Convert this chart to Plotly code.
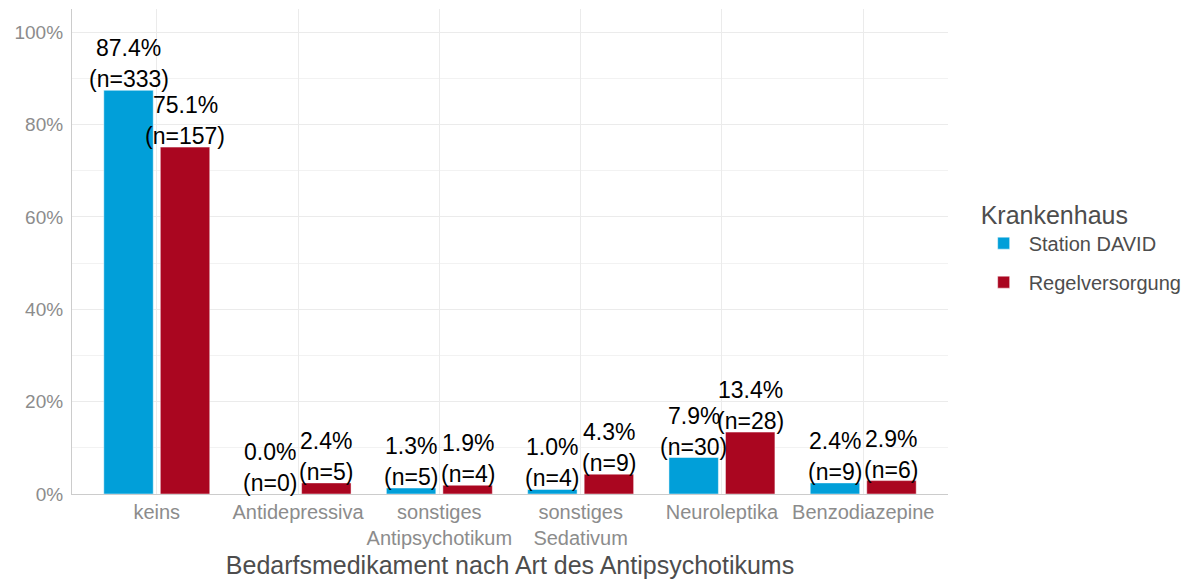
import plotly.graph_objects as go

categories = ["keins", "Antidepressiva", "sonstiges<br>Antipsychotikum",
              "sonstiges<br>Sedativum", "Neuroleptika", "Benzodiazepine"]
david_pct = [87.4, 0.0, 1.3, 1.0, 7.9, 2.4]
david_n = [333, 0, 5, 4, 30, 9]
regel_pct = [75.1, 2.4, 1.9, 4.3, 13.4, 2.9]
regel_n = [157, 5, 4, 9, 28, 6]
y_ticks = [0, 20, 40, 60, 80, 100]
y_ticklabels = ["0%", "20%", "40%", "60%", "80%", "100%"]

BLUE = "#019fd9"
RED = "#aa0620"
FONT = "Liberation Sans, Arial, sans-serif"

fig = go.Figure()
fig.add_trace(go.Bar(name="Station DAVID", x=categories, y=david_pct, legendgroup="a",
                     marker=dict(color=BLUE, line=dict(color="rgba(255,255,255,0.6)", width=0.8))))
fig.add_trace(go.Bar(name="Regelversorgung", x=categories, y=regel_pct, legendgroup="b",
                     marker=dict(color=RED, line=dict(color="rgba(255,255,255,0.6)", width=0.8))))

annotations = []
for series, (pcts, ns, off) in enumerate([(david_pct, david_n, -0.2), (regel_pct, regel_n, 0.2)]):
    for i, (p, n) in enumerate(zip(pcts, ns)):
        annotations.append(dict(x=i + off, y=p, xref="x", yref="y", text=f"(n={n})",
                                showarrow=False, xanchor="center", yanchor="bottom", yshift=-4,
                                font=dict(size=23, color="black", family=FONT)))
        annotations.append(dict(x=i + off, y=p, xref="x", yref="y", text=f"{p:.1f}%",
                                showarrow=False, xanchor="center", yanchor="bottom", yshift=27,
                                font=dict(size=23, color="black", family=FONT)))

fig.update_layout(
    width=1181, height=575,
    margin=dict(l=64, r=241, t=1, b=89, autoexpand=False),
    paper_bgcolor="white", plot_bgcolor="white",
    barmode="group", bargap=0.2, bargroupgap=0.125,
    font=dict(family=FONT),
    annotations=annotations,
    legend=dict(title=dict(text="Krankenhaus", font=dict(size=25, color="#4d4d4d")),
                font=dict(size=20, color="#4d4d4d"),
                x=1.035, xanchor="left", y=0.51, yanchor="middle",
                itemwidth=40, tracegroupgap=10),
    xaxis=dict(range=[-0.6, 5.6], showgrid=True, gridcolor="#ebebeb", gridwidth=1.2,
               tickfont=dict(size=20, color="#8c8c8c"), ticks="",
               showline=True, linecolor="#cccccc", linewidth=1.2, automargin=False,
               title=dict(text="Bedarfsmedikament nach Art des Antipsychotikums",
                          font=dict(size=25, color="#4d4d4d"), standoff=8)),
    yaxis=dict(range=[0, 105], tickvals=y_ticks, ticktext=y_ticklabels,
               showgrid=True, gridcolor="#ebebeb", gridwidth=1.2, automargin=False,
               minor=dict(dtick=10, tick0=0, showgrid=True, gridcolor="#f2f2f2", gridwidth=1),
               tickfont=dict(size=19, color="#8c8c8c"), ticks="", ticklabelstandoff=4,
               showline=True, linecolor="#cccccc", linewidth=1.2, zeroline=False),
)

fig.write_html("out.html")
